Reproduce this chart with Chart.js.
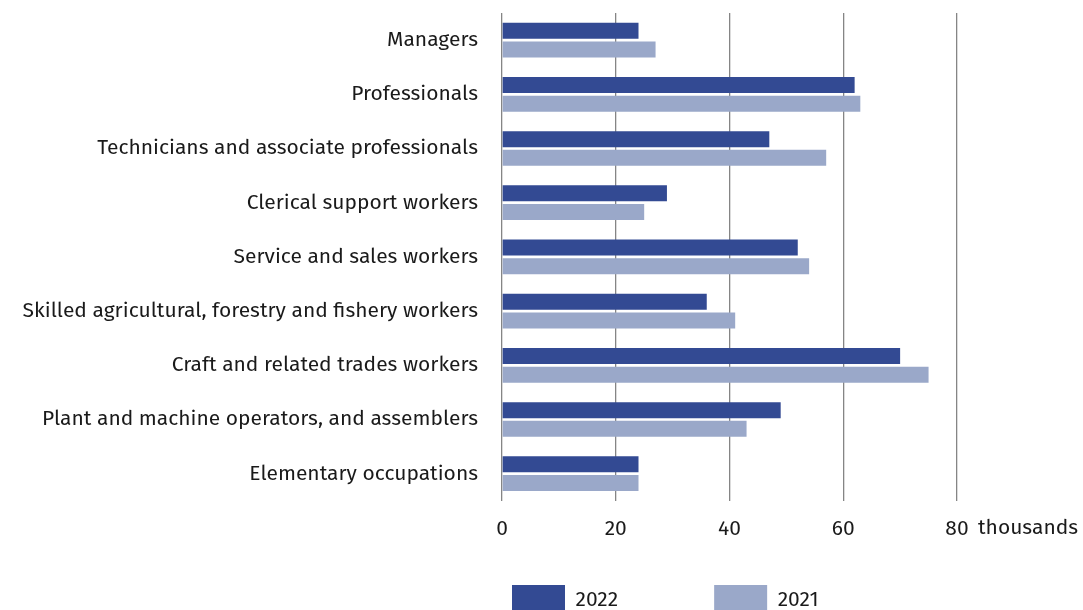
<!DOCTYPE html>
<html>
<head>
<meta charset="utf-8">
<script src="https://cdn.jsdelivr.net/npm/chart.js@4/dist/chart.umd.min.js"></script>
<style>
  html, body { margin: 0; padding: 0; background: #fff; overflow: hidden; }
  #wrap { position: relative; width: 1083px; height: 610px; }
</style>
</head>
<body>
<div id="wrap"><canvas id="chart"></canvas></div>
<script>
const categories = [
    'Managers',
    'Professionals',
    'Technicians and associate professionals',
    'Clerical support workers',
    'Service and sales workers',
    'Skilled agricultural, forestry and fishery workers',
    'Craft and related trades workers',
    'Plant and machine operators, and assemblers',
    'Elementary occupations'
]
const values2022 = [24, 62, 47, 29, 52, 36, 70, 49, 24]
const values2021 = [27, 63, 57, 25, 54, 41, 75, 43, 24]
const xTicks = [0, 20, 40, 60, 80]
const unitLabel = 'thousands'

const FONT = '"Fira Sans", "Open Sans", "Noto Sans", sans-serif'
const TEXT = '#1a1a1a'
const SIZE = 21

// "thousands" sits just to the right of the last tick label
const unitPlugin = {
    id: 'unitLabel',
    afterDraw(chart) {
        const x = chart.scales.x
        const ctx = chart.ctx
        ctx.save()
        ctx.font = SIZE + 'px ' + FONT
        ctx.fillStyle = TEXT
        ctx.textAlign = 'left'
        ctx.textBaseline = 'middle'
        ctx.fillText(unitLabel, x.getPixelForValue(xTicks[xTicks.length - 1]) + 21, chart.chartArea.bottom + 27)
        ctx.restore()
    }
}

// move the legend under the bars, a bit left of the plot centre
const legendPlace = {
    id: 'legendPlace',
    afterLayout(chart) {
        const lg = chart.legend
        const pad = lg.options.labels.padding
        lg.left = chart.chartArea.left + 10 - pad
        lg.right = lg.left + chart.width
        lg.top = 585 - pad
        lg.bottom = lg.top + 200
    }
}

new Chart(document.getElementById('chart'), {
    type: 'bar',
    data: {
        labels: categories,
        datasets: [
            {
                label: '2022',
                data: values2022,
                backgroundColor: '#334a93',
                borderWidth: 0,
                categoryPercentage: 0.69,
                barPercentage: 0.856
            },
            {
                label: '2021',
                data: values2021,
                backgroundColor: '#9aa8c9',
                borderWidth: 0,
                categoryPercentage: 0.69,
                barPercentage: 0.856
            }
        ]
    },
    options: {
        indexAxis: 'y',
        responsive: true,
        maintainAspectRatio: false,
        animation: false,
        layout: { padding: { top: 13, right: 126, bottom: 51, left: 0 } },
        scales: {
            x: {
                min: 0,
                max: 80,
                afterBuildTicks: scale => { scale.ticks = xTicks.map(v => ({ value: v })) },
                grid: { color: '#858585', lineWidth: 1.3, drawTicks: false },
                border: { display: false },
                ticks: { padding: 16, color: TEXT, font: { family: FONT, size: SIZE } }
            },
            y: {
                grid: { display: false, drawTicks: false },
                border: { display: false },
                afterFit: scale => {
                    scale.width = 502
                    scale.paddingTop = 0
                    scale.paddingBottom = 0
                },
                ticks: { padding: 24, color: TEXT, font: { family: FONT, size: SIZE } }
            }
        },
        plugins: {
            tooltip: { enabled: false },
            legend: {
                position: 'bottom',
                align: 'start',
                maxHeight: 1,
                labels: {
                    boxWidth: 53,
                    boxHeight: 30,
                    padding: 96,
                    color: TEXT,
                    font: { family: FONT, size: SIZE }
                }
            }
        }
    },
    plugins: [unitPlugin, legendPlace]
})
</script>
</body>
</html>
